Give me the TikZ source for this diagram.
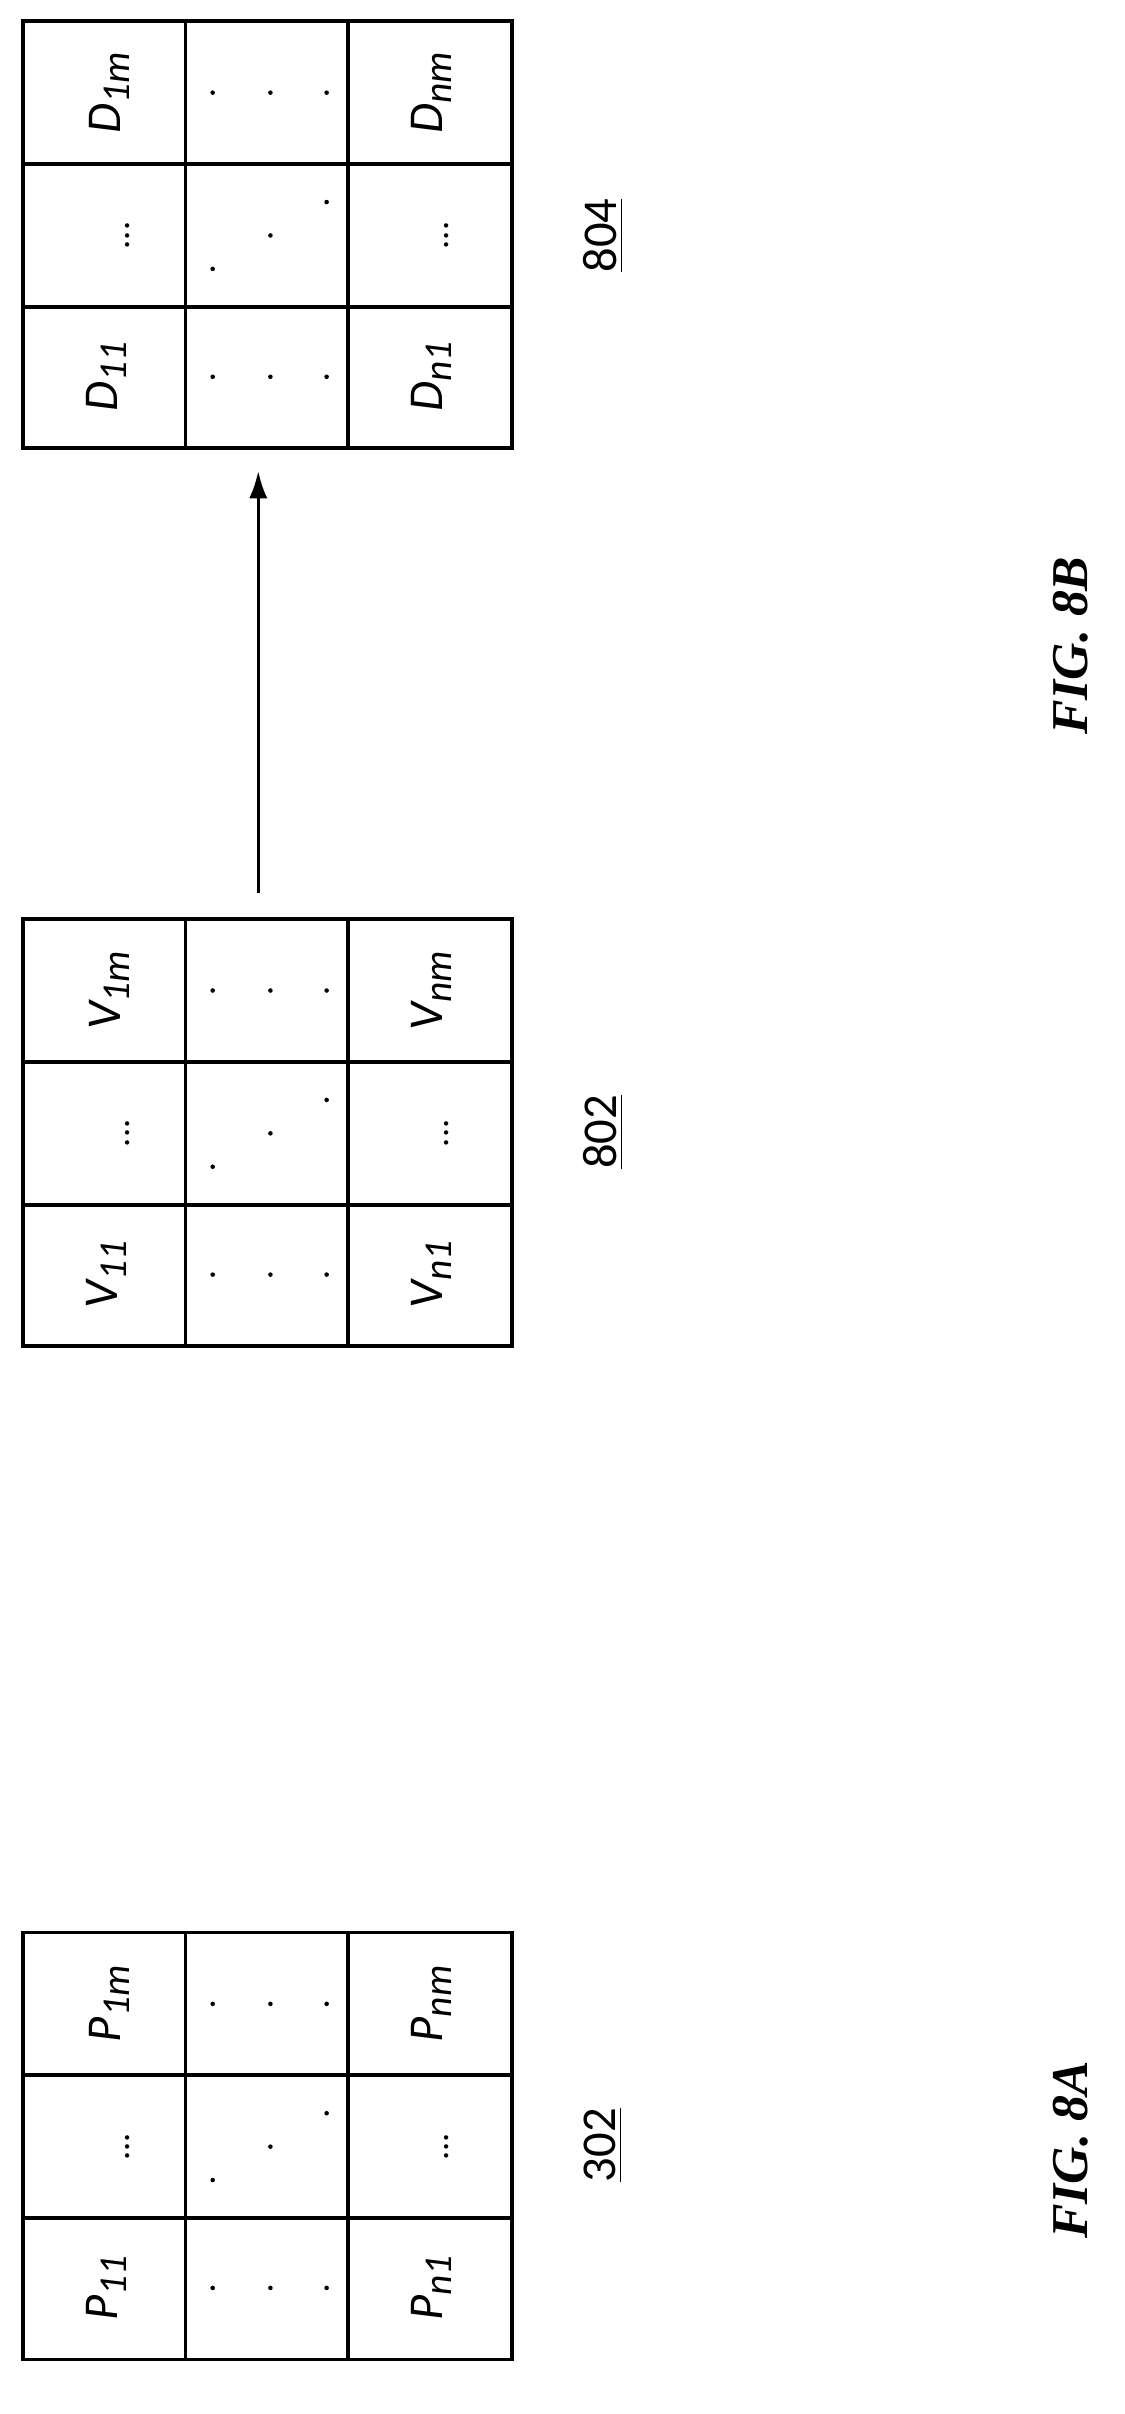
\documentclass[tikz,border=0pt]{standalone}
\usepackage{fontspec}
\setmainfont{Carlito}
\newfontfamily\figfont{Liberation Serif}
\usetikzlibrary{arrows.meta}
\newcommand\mysub[2]{{\itshape #1\raisebox{-0.4ex}{\fontsize{13}{13}\selectfont #2}}}
\newcommand\mygrid[3]{% #1 top y, #2 letter, #3 name
  \draw[gridline] (15,#1) rectangle (337,#1+281);
  \draw[gridline] (122,#1) -- (122,#1+281) (229,#1) -- (229,#1+281);
  \draw[gridline] (15,#1+94) -- (337,#1+94) (15,#1+188) -- (337,#1+188);
  \node[celltxt] (#3a) at (70,#1+234) {\mysub{#2}{11}};
  \node[celltxt] (#3b) at (72,#1+47) {\mysub{#2}{1m}};
  \node[celltxt] (#3c) at (284,#1+234) {\mysub{#2}{n1}};
  \node[celltxt] (#3d) at (284,#1+47) {\mysub{#2}{nm}};
  \node[celltxt,font=\fontsize{12}{12}\selectfont] (#3e) at (84,#1+141) {...};
  \node[celltxt,font=\fontsize{12}{12}\selectfont] (#3f) at (294,#1+141) {...};
  \foreach \xx in {140,178,215}{\fill (\xx,#1+234) circle (1.5); \fill (\xx,#1+47) circle (1.5);}
  \fill (140,#1+163) circle (1.5); \fill (178,#1+141) circle (1.5); \fill (215,#1+119) circle (1.5);
}
\begin{document}
\begin{tikzpicture}[x=0.5pt,y=-0.5pt,
  gridline/.style={line width=1.2pt},
  celltxt/.style={rotate=90,font=\fontsize{16}{16}\selectfont,inner sep=0},
  reflabel/.style={rotate=90,font=\fontsize{16}{16}\selectfont,inner sep=0},
  figlabel/.style={rotate=90,font=\figfont\fontsize{17}{17}\selectfont\bfseries\itshape,inner sep=0}]
\useasboundingbox (0,0) rectangle (740,1589);
\mygrid{1272}{P}{gp}
\mygrid{605}{V}{gv}
\mygrid{14}{D}{gd}
\node[reflabel] (l302) at (397,1412) {\underline{302}};
\node[reflabel] (l802) at (397,745) {\underline{802}};
\node[reflabel] (l804) at (397,155) {\underline{804}};
\node[figlabel] (f8a) at (705,1415) {FIG. 8A};
\node[figlabel] (f8b) at (705,425) {FIG. 8B};
\coordinate (as) at (170,588);
\coordinate (ae) at (170,310);
\draw[line width=1pt,-{Latex[length=9pt,width=6pt]}] (as) -- (ae);
\end{tikzpicture}
\end{document}
